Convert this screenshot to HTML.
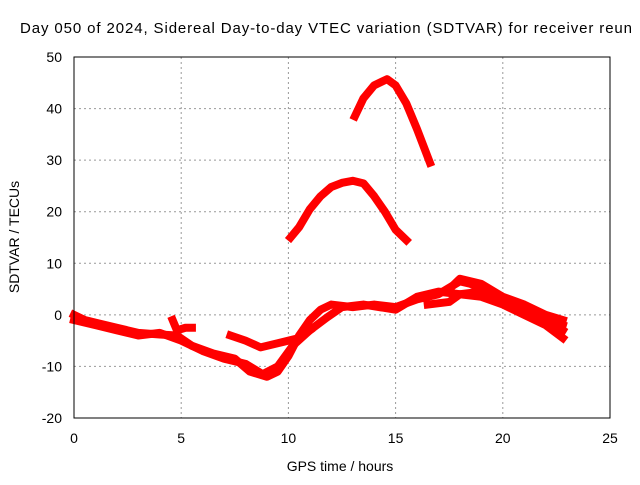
<!DOCTYPE html>
<html><head><meta charset="utf-8"><style>
body{margin:0;width:640px;height:480px;overflow:hidden;background:#fff;font-family:"Liberation Sans",sans-serif;}
</style></head><body>
<svg id="chart" width="640" height="480" xmlns="http://www.w3.org/2000/svg" font-family="Liberation Sans, sans-serif" font-size="14">
<text x="20" y="33" font-size="15" textLength="612" lengthAdjust="spacing">Day 050 of 2024, Sidereal Day-to-day VTEC variation (SDTVAR) for receiver reun</text>
<g id="grid"></g>
<g id="axes"></g>
<g id="series"></g>
<rect x="74" y="57" width="536" height="361" fill="none" stroke="#000" stroke-width="1"/>
<text x="340" y="471" text-anchor="middle">GPS time / hours</text>
<text x="0" y="0" text-anchor="middle" transform="translate(19,237) rotate(-90)">SDTVAR / TECUs</text>
</svg>
<script>
const xTicks=[0,5,10,15,20,25];
const yTicks=[-20,-10,0,10,20,30,40,50];
const trackA=[[13.1,38.5],[13.5,42],[14,44.5],[14.6,45.7],[15,44.5],[15.5,41],[16,36],[16.6,29.5]];
const trackB=[[10.1,15],[10.5,17],[11,20.5],[11.5,23],[12,24.8],[12.5,25.6],[13,26],[13.5,25.5],[14,23],[14.5,20],[15,16.5],[15.5,14.5]];
const trackC=[[0,0],[0.5,-1],[1,-1.5],[2,-2.5],[3,-3.5],[4,-3.8],[4.8,-4],[5.5,-6],[6.5,-7.5],[7.5,-8.5],[8.2,-11],[9,-12],[9.5,-11],[10,-8],[10.5,-4],[11,-1],[11.5,1],[12,2],[13,1.5],[14,2],[15,1.5],[16,3],[17,4],[18,6.5],[18.5,6],[19,5],[20,3],[21,1],[22,-1],[22.8,-3]];
const trackD=[[0,-1],[1,-2],[2,-3],[3,-4],[4,-3.5],[5,-5],[6,-7],[7,-8.5],[8,-9.5],[8.8,-11.5],[9.5,-10],[10.2,-6],[11,-3],[11.8,-0.5],[12.5,1.5],[13.5,2],[15,1],[16,3.5],[17,4.5],[18,4],[19,3.5],[20,2],[21,0],[22,-2],[22.8,-4.5]];
const trackE=[[7.3,-4],[8,-5],[8.7,-6.3],[9.5,-5.5],[10.5,-4.5],[11,-3]];
const trackF=[[16.5,2],[17.5,2.5],[18,4],[19,4.5],[20,3],[21,1.5],[22,-1],[22.8,-2]];
const trackG=[[17.5,5],[18,7],[19,6],[20,3.5],[21,2],[22,0],[22.8,-1]];
const trackH=[[4.6,-1],[4.8,-3],[5.2,-2.5],[5.5,-2.5]];
const tracks=[trackA,trackB,trackC,trackD,trackE,trackF,trackG,trackH];
const X=h=>74+h*536/25, Y=v=>57+(50-v)*361/70;
const NS="http://www.w3.org/2000/svg";
const grid=document.getElementById('grid'),axes=document.getElementById('axes'),ser=document.getElementById('series');
function mk(t,a,p){const e=document.createElementNS(NS,t);for(const k in a)e.setAttribute(k,a[k]);p.appendChild(e);return e;}
xTicks.forEach(t=>{const x=X(t);
 if(t>0&&t<25){const l=mk('line',{x1:x,x2:x,y1:57,y2:418,stroke:'#999','stroke-dasharray':'2,3'},grid);
 }
 const tx=mk('text',{x:x,y:443,'text-anchor':'middle'},axes);tx.textContent=t;
 });
yTicks.forEach(t=>{const y=Y(t);
 if(t>-20&&t<50){const l=mk('line',{x1:74,x2:610,y1:y,y2:y,stroke:'#999','stroke-dasharray':'2,3'},grid);
 }
 const tx=mk('text',{x:62,y:y+5,'text-anchor':'end'},axes);tx.textContent=t;
 });
tracks.forEach(tr=>{const p=mk('polyline',{points:tr.map(d=>X(d[0])+','+Y(d[1])).join(' '),fill:'none',stroke:'#f00','stroke-width':8,'stroke-linejoin':'round','stroke-linecap':'square'},ser);
 });
</script>
</body></html>
